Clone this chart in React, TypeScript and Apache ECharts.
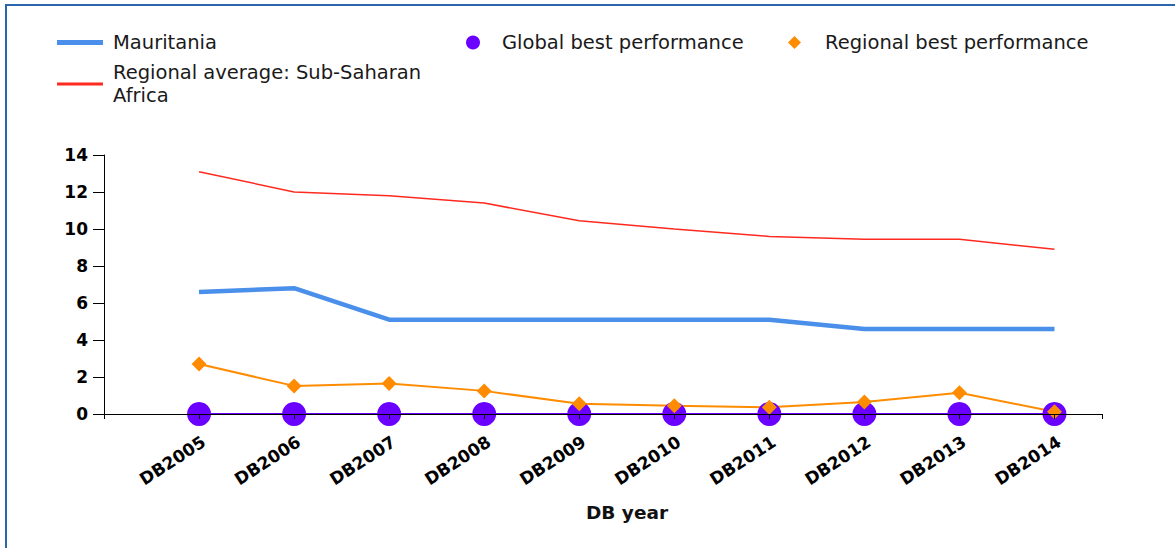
import React, { useEffect, useRef } from "react";
import * as echarts from "echarts";

const categories = ["DB2005", "DB2006", "DB2007", "DB2008", "DB2009", "DB2010", "DB2011", "DB2012", "DB2013", "DB2014"];
const mauritania = [6.6, 6.8, 5.1, 5.1, 5.1, 5.1, 5.1, 4.6, 4.6, 4.6];
const regionalAverage = [13.1, 12.0, 11.8, 11.4, 10.45, 10.0, 9.6, 9.45, 9.45, 8.9];
const globalBest = [0, 0, 0, 0, 0, 0, 0, 0, 0, 0];
const regionalBest = [2.7, 1.52, 1.65, 1.25, 0.55, 0.45, 0.36, 0.65, 1.15, 0.12];
const yTicks = { min: 0, max: 14, interval: 2 };

const FONT = "DejaVu Sans";
const pairs = (arr: number[]) => arr.map((v, i) => [i + 1, v]);

export default function App() {
  const ref = useRef<HTMLDivElement>(null);
  useEffect(() => {
    if (!ref.current) return;
    const chart = echarts.init(ref.current, null, { renderer: "svg" });
    const legendText = { fontFamily: FONT, fontSize: 19.5, color: "#1a1a1a", lineHeight: 23 };
    chart.setOption({
      animation: false,
      backgroundColor: "#ffffff",
      legend: [
        {
          data: [{ name: "Mauritania", icon: "rect" }],
          left: 57, top: 31, padding: 0, itemWidth: 46, itemHeight: 5,
          textStyle: { ...legendText, padding: [0, 0, 0, 5] },
        },
        {
          data: [{ name: "Regional average: Sub-Saharan Africa", icon: "rect" }],
          left: 57, top: 61, padding: 0, itemWidth: 46, itemHeight: 3,
          formatter: () => "Regional average: Sub-Saharan\nAfrica",
          textStyle: { ...legendText, padding: [0, 0, 0, 5] },
        },
        {
          data: [{ name: "Global best performance", icon: "circle" }],
          left: 466, top: 31, padding: 0, itemWidth: 14, itemHeight: 14,
          textStyle: { ...legendText, padding: [0, 0, 0, 17] },
        },
        {
          data: [{ name: "Regional best performance", icon: "diamond" }],
          left: 788, top: 31, padding: 0, itemWidth: 13, itemHeight: 13,
          textStyle: { ...legendText, padding: [0, 0, 0, 19] },
        },
      ],
      grid: { left: 104, right: 73, top: 155, bottom: 134, containLabel: false, outerBoundsMode: "none" },
      xAxis: {
        type: "value",
        min: 0,
        max: 10.5,
        interval: 1,
        z: 10,
        name: "DB year",
        nameLocation: "middle",
        nameGap: 89,
        nameTextStyle: { fontFamily: FONT, fontWeight: "bold", fontSize: 18.5, color: "#111", padding: [0, 0, 0, 48] },
        axisLine: { show: true, onZero: false, lineStyle: { color: "#000", width: 1 } },
        axisTick: { show: true, length: 5, lineStyle: { color: "#000" } },
        splitLine: { show: false },
        axisLabel: {
          rotate: 33,
          margin: 19,
          verticalAlign: "top",
          fontFamily: FONT,
          fontWeight: "bold",
          fontSize: 17,
          color: "#000",
          formatter: (v: number) => (Number.isInteger(v) && v >= 1 && v <= categories.length ? categories[v - 1] : ""),
        },
      },
      yAxis: {
        type: "value",
        min: yTicks.min,
        max: yTicks.max,
        interval: yTicks.interval,
        z: 10,
        axisLine: { show: true, lineStyle: { color: "#000", width: 1 } },
        axisTick: { show: true, length: 11, lineStyle: { color: "#000" } },
        splitLine: { show: false },
        axisLabel: { margin: 16, fontFamily: FONT, fontWeight: "bold", fontSize: 17, color: "#000" },
      },
      series: [
        {
          name: "Mauritania",
          type: "line",
          data: pairs(mauritania),
          symbol: "none",
          lineStyle: { color: "#4a8fea", width: 4.5 },
          itemStyle: { color: "#4a8fea" },
        },
        {
          name: "Regional average: Sub-Saharan Africa",
          type: "line",
          data: pairs(regionalAverage),
          symbol: "none",
          lineStyle: { color: "#ff2a1f", width: 1.5 },
          itemStyle: { color: "#ff2a1f" },
        },
        {
          name: "Global best performance",
          type: "line",
          data: pairs(globalBest),
          symbol: "circle",
          symbolSize: 24,
          lineStyle: { color: "#6a00ff", width: 2 },
          itemStyle: { color: "#6a00ff" },
        },
        {
          name: "Regional best performance",
          type: "line",
          data: pairs(regionalBest),
          symbol: "diamond",
          symbolSize: 15,
          lineStyle: { color: "#ff8c00", width: 2 },
          itemStyle: { color: "#ff8c00" },
        },
      ],
    });
    return () => chart.dispose();
  }, []);
  return (
    <div style={{ position: "fixed", left: 0, top: 0, width: 1175, height: 548, background: "#fff", overflow: "hidden" }}>
      <div ref={ref} style={{ position: "absolute", left: 0, top: 0, width: 1175, height: 548 }} />
      <div
        style={{
          position: "absolute",
          left: 5,
          top: 4,
          width: 1200,
          height: 600,
          borderLeft: "2px solid #2b65ad",
          borderTop: "2px solid #2b65ad",
          pointerEvents: "none",
        }}
      />
    </div>
  );
}
